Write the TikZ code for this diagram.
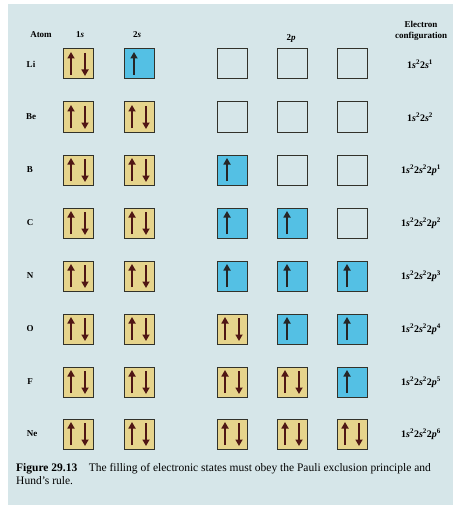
\documentclass[tikz,border=0pt]{standalone}
\usepackage{fontspec}
\setmainfont{Liberation Serif}
\usetikzlibrary{arrows.meta}

\definecolor{page}{RGB}{214,230,233}
\definecolor{paircol}{RGB}{230,212,140}
\definecolor{halfcol}{RGB}{84,192,228}
\definecolor{boxline}{RGB}{50,50,42}
\definecolor{spincol}{RGB}{80,22,20}

\newcommand{\shell}[2]{\textit{#1}\textsuperscript{#2}}

\tikzset{
  orbital/.style={draw=boxline, line width=1pt, minimum size=30pt, inner sep=0pt},
  spin/.style={line width=2.2pt, -{Triangle[length=6.5pt,width=7pt]}},
  paired/.style={orbital, fill=paircol, path picture={
      \draw[spin, spincol] ([xshift=-7pt,yshift=4pt]path picture bounding box.south)
        -- ([xshift=-7pt,yshift=-3pt]path picture bounding box.north);
      \draw[spin, spincol] ([xshift=7pt,yshift=-4pt]path picture bounding box.north)
        -- ([xshift=7pt,yshift=3pt]path picture bounding box.south);}},
  single/.style={orbital, fill=halfcol, path picture={
      \draw[spin, black!85] ([xshift=-5pt,yshift=4pt]path picture bounding box.south)
        -- ([xshift=-5pt,yshift=-3pt]path picture bounding box.north);}},
  empty/.style={orbital},
  head/.style={font=\fontsize{9}{10.5}\selectfont\bfseries, inner sep=0pt},
  elem/.style={font=\fontsize{9}{10}\selectfont\bfseries, inner sep=0pt},
  config/.style={font=\fontsize{10}{11}\selectfont\bfseries, inner sep=0pt}
}

\begin{document}
\begin{tikzpicture}[x=1pt, y=-1pt]
\useasboundingbox (0,0) rectangle (453,508);
\fill[page] (8,4) rectangle (453,505);

% headings
\node[head] (hdatom) at (41,35) {Atom};
\node[head] (hd1s) at (80,35) {1\textit{s}};
\node[head] (hd2s) at (137,35) {2\textit{s}};
\node[head] (hd2p) at (291,38) {2\textit{p}};
\node[head, align=center] (hdcfg) at (421,31) {Electron\\configuration};

% Li
\node[elem] (li) at (31,64) {Li};
\node[paired] (li1s) at (78,64) {};
\node[single] (li2s) at (139,64) {};
\node[empty] (li2pa) at (232,64) {};
\node[empty] (li2pb) at (292,64) {};
\node[empty] (li2pc) at (352,64) {};
\node[config] (licfg) at (420,64) {1\shell{s}{2}2\shell{s}{1}};

% Be
\node[elem] (be) at (31,117) {Be};
\node[paired] (be1s) at (78,117) {};
\node[paired] (be2s) at (139,117) {};
\node[empty] (be2pa) at (232,117) {};
\node[empty] (be2pb) at (292,117) {};
\node[empty] (be2pc) at (352,117) {};
\node[config] (becfg) at (420,117) {1\shell{s}{2}2\shell{s}{2}};

% B
\node[elem] (b) at (30,170) {B};
\node[paired] (b1s) at (78,170) {};
\node[paired] (b2s) at (139,170) {};
\node[single] (b2pa) at (232,170) {};
\node[empty] (b2pb) at (292,170) {};
\node[empty] (b2pc) at (352,170) {};
\node[config] (bcfg) at (421,170) {1\shell{s}{2}2\shell{s}{2}2\shell{p}{1}};

% C
\node[elem] (c) at (30,223) {C};
\node[paired] (c1s) at (78,223) {};
\node[paired] (c2s) at (139,223) {};
\node[single] (c2pa) at (232,223) {};
\node[single] (c2pb) at (292,223) {};
\node[empty] (c2pc) at (352,223) {};
\node[config] (ccfg) at (421,223) {1\shell{s}{2}2\shell{s}{2}2\shell{p}{2}};

% N
\node[elem] (n) at (30,276) {N};
\node[paired] (n1s) at (78,276) {};
\node[paired] (n2s) at (139,276) {};
\node[single] (n2pa) at (232,276) {};
\node[single] (n2pb) at (292,276) {};
\node[single] (n2pc) at (352,276) {};
\node[config] (ncfg) at (421,276) {1\shell{s}{2}2\shell{s}{2}2\shell{p}{3}};

% O
\node[elem] (o) at (30,329) {O};
\node[paired] (o1s) at (78,329) {};
\node[paired] (o2s) at (139,329) {};
\node[paired] (o2pa) at (232,329) {};
\node[single] (o2pb) at (292,329) {};
\node[single] (o2pc) at (352,329) {};
\node[config] (ocfg) at (421,329) {1\shell{s}{2}2\shell{s}{2}2\shell{p}{4}};

% F
\node[elem] (f) at (30,382) {F};
\node[paired] (f1s) at (78,382) {};
\node[paired] (f2s) at (139,382) {};
\node[paired] (f2pa) at (232,382) {};
\node[paired] (f2pb) at (292,382) {};
\node[single] (f2pc) at (352,382) {};
\node[config] (fcfg) at (421,382) {1\shell{s}{2}2\shell{s}{2}2\shell{p}{5}};

% Ne
\node[elem] (ne) at (32,434) {Ne};
\node[paired] (ne1s) at (78,434) {};
\node[paired] (ne2s) at (139,434) {};
\node[paired] (ne2pa) at (232,434) {};
\node[paired] (ne2pb) at (292,434) {};
\node[paired] (ne2pc) at (352,434) {};
\node[config] (necfg) at (421,434) {1\shell{s}{2}2\shell{s}{2}2\shell{p}{6}};

% caption
\node[anchor=north west, inner sep=0pt, align=left, font=\fontsize{11.5}{13}\selectfont]
  (caption) at (16,463) {\textbf{Figure 29.13}\quad The filling of electronic states must obey the Pauli exclusion principle and\\Hund's rule.};
\end{tikzpicture}
\end{document}
